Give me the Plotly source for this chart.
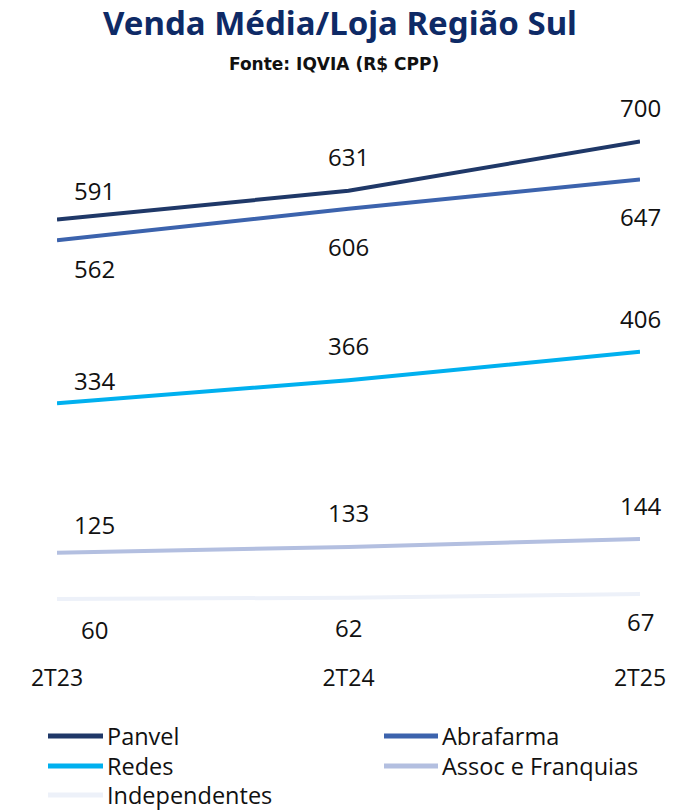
import plotly.graph_objects as go

periods = ["2T23", "2T24", "2T25"]
series_names = ["Panvel", "Abrafarma", "Redes", "Assoc e Franquias", "Independentes"]
panvel = [591, 631, 700]
abrafarma = [562, 606, 647]
redes = [334, 366, 406]
assoc = [125, 133, 144]
independentes = [60, 62, 67]
colors = ["#1f3868", "#3c63ad", "#00b0ef", "#b3bfe0", "#edf1f9"]

values = [panvel, abrafarma, redes, assoc, independentes]

# label placement (pixel shifts from each point: positive = up)
label_yshift = [
    [29, 34, 34],
    [-28, -38, -37],
    [23, 35, 33],
    [28, 34, 34],
    [-30, -30, -27],
]
first_xshift = 37

W, H = 689, 812
ML, MR, MT, MB = 57, 49, 70, 170
PW, PH = W - ML - MR, H - MT - MB


def px_x(p):
    return (p - ML) / PW


def px_y(p):
    return (H - MB - p) / PH


fig = go.Figure()
for name, vals, col in zip(series_names, values, colors):
    fig.add_trace(go.Scatter(x=periods, y=vals, mode="lines", name=name,
                             line=dict(color=col, width=4), hoverinfo="skip",
                             showlegend=False))

label_font = dict(family="Open Sans", size=24, color="#111111")
for vals, shifts in zip(values, label_yshift):
    for i, (p, v, ys) in enumerate(zip(periods, vals, shifts)):
        xs = first_xshift if i == 0 else 0
        fig.add_annotation(x=p, y=v, text=str(v), showarrow=False,
                           xshift=xs, yshift=ys, yanchor="middle", font=label_font)

# subtitle
fig.add_annotation(text="<b>Fonte: IQVIA (R$ CPP)</b>", xref="paper", yref="paper",
                   x=px_x(334), y=px_y(64), showarrow=False, xanchor="center",
                   yanchor="middle",
                   font=dict(family="DejaVu Sans", size=17, color="#111111"))

# manual legend (two columns)
leg_cols = [(48, 103, 105), (384, 438, 440)]
leg_rows = [736, 766, 795]
for k, (name, col) in enumerate(zip(series_names, colors)):
    r, c = divmod(k, 2)
    x0, x1, xt = leg_cols[c]
    yy = px_y(leg_rows[r])
    fig.add_shape(type="line", xref="paper", yref="paper",
                  x0=px_x(x0), x1=px_x(x1), y0=yy, y1=yy,
                  line=dict(color=col, width=5))
    fig.add_annotation(text=name, xref="paper", yref="paper", x=px_x(xt), y=yy,
                       xanchor="left", yanchor="middle", showarrow=False,
                       font=dict(family="Open Sans", size=23.5, color="#111111"))

fig.update_layout(
    width=W, height=H,
    margin=dict(l=ML, r=MR, t=MT, b=MB),
    paper_bgcolor="white", plot_bgcolor="white",
    title=dict(text="<b>Venda Média/Loja Região Sul</b>", x=340 / W, xanchor="center",
               y=1 - 23 / H, yanchor="middle",
               font=dict(family="Noto Sans", size=33, color="#0e2a66")),
    xaxis=dict(type="category", range=[0, 2], showgrid=False, zeroline=False,
               showline=False, ticks="", ticklabelstandoff=20,
               tickfont=dict(family="Open Sans", size=23, color="#111111")),
    yaxis=dict(range=[0, 800], visible=False),
    showlegend=False,
)

fig.write_html("out.html")
